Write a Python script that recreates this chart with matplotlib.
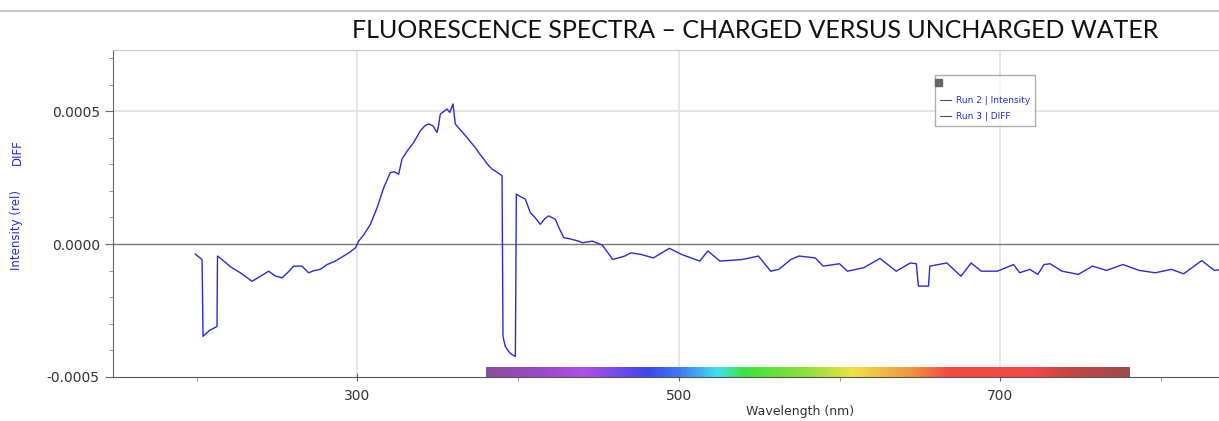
import numpy as np
import matplotlib
matplotlib.use("Agg")
import matplotlib.pyplot as plt
from matplotlib.colors import LinearSegmentedColormap
from matplotlib.lines import Line2D
from matplotlib.patches import Rectangle

# data (DIFF in units of 1e-4)
wavelength = [199.2, 203.4, 204.0, 208.0, 212.7, 213.0, 215.8, 221.0, 227.2, 234.5,
              240.0, 244.8, 249.0, 253.2, 257.0, 260.4, 265.6, 269.7, 273.0, 277.0,
              281.2, 286.0, 291.5, 295.0, 298.8, 300.8, 304.0, 308.1, 312.3, 316.4,
              320.5, 323.0, 325.7, 327.8, 331.0, 335.0, 339.2, 342.0, 344.4, 347.0,
              349.6, 350.5, 351.6, 355.8, 357.5, 359.5, 360.9, 364.0, 368.2, 371.0,
              373.4, 376.0, 378.6, 381.0, 383.8, 387.0, 390.0, 390.6, 392.0, 394.1,
              396.0, 398.3, 398.9, 401.0, 404.5, 407.6, 410.5, 413.8, 416.5, 419.0,
              423.2, 425.5, 428.4, 432.0, 437.7, 440.0, 446.2, 452.4, 458.9, 466.4,
              470.2, 476.5, 484.1, 494.1, 501.7, 513.0, 518.0, 525.6, 539.5, 549.5,
              557.1, 562.2, 569.7, 574.7, 584.8, 589.8, 599.9, 604.9, 615.0, 625.1,
              635.2, 644.0, 647.7, 649.0, 655.3, 656.1, 666.7, 675.5, 681.8, 688.1,
              698.2, 708.2, 712.0, 718.3, 723.3, 727.1, 730.9, 738.4, 748.5, 757.3,
              766.1, 776.2, 786.3, 796.4, 806.4, 814.0, 825.3, 833.1, 840.0]
diff_e4 = [-0.38, -0.58, -3.47, -3.25, -3.10, -0.45, -0.58, -0.85, -1.08, -1.40,
           -1.20, -1.02, -1.20, -1.27, -1.05, -0.83, -0.83, -1.08, -1.00, -0.95,
           -0.77, -0.65, -0.45, -0.32, -0.14, 0.11, 0.35, 0.74, 1.37, 2.12,
           2.69, 2.72, 2.63, 3.20, 3.50, 3.82, 4.26, 4.45, 4.52, 4.45,
           4.20, 4.45, 4.89, 5.08, 4.95, 5.27, 4.52, 4.30, 4.01, 3.80,
           3.63, 3.40, 3.20, 3.00, 2.82, 2.70, 2.57, -3.47, -3.85, -4.04,
           -4.15, -4.23, 1.88, 1.80, 1.69, 1.18, 1.00, 0.74, 0.95, 1.06,
           0.93, 0.60, 0.24, 0.20, 0.11, 0.05, 0.11, -0.04, -0.58, -0.45,
           -0.33, -0.39, -0.52, -0.16, -0.39, -0.64, -0.26, -0.64, -0.58, -0.45,
           -1.02, -0.95, -0.58, -0.45, -0.52, -0.83, -0.74, -1.02, -0.89, -0.54,
           -1.02, -0.71, -0.74, -1.58, -1.58, -0.83, -0.71, -1.21, -0.71, -1.02,
           -1.02, -0.77, -1.08, -0.95, -1.14, -0.77, -0.74, -1.02, -1.14, -0.83,
           -0.99, -0.77, -0.99, -1.08, -0.95, -1.12, -0.62, -0.99, -0.95]

x_major = [300, 500, 700]
x_minor = [200, 400, 600, 800]
y_major = [-0.0005, 0.0, 0.0005]
legend_labels = ["Run 2 | Intensity", "Run 3 | DIFF"]
title = "FLUORESCENCE SPECTRA \u2013 CHARGED VERSUS UNCHARGED WATER"

blue = "#2b2bd6"

fig = plt.figure(figsize=(12.19, 4.21), dpi=100)
ax = fig.add_axes([113 / 1219, 1 - 377 / 421, 1 - 113 / 1219, 327 / 421])

ax.set_xlim(148, 836)
ax.set_ylim(-0.0005, 0.00073)

# grid
for xv in x_major:
    ax.axvline(xv, color="#e2e2e2", lw=1.2, zorder=0)
ax.axhline(0.0005, color="#e2e2e2", lw=1.2, zorder=0)
ax.axhline(0.0, color="#777777", lw=1.0, zorder=1)

# visible spectrum bar, 380-780 nm
spec = LinearSegmentedColormap.from_list("spec", [
    (0.0, "#8a4f9e"), (0.08, "#9a48c8"), (0.15, "#b050e8"), (0.25, "#3a46f0"),
    (0.30, "#3d7cf2"), (0.36, "#40e2ef"), (0.40, "#3ee23e"), (0.50, "#90e03a"),
    (0.57, "#f0e244"), (0.66, "#f29440"), (0.72, "#f44a40"), (0.85, "#f24848"),
    (0.91, "#c44646"), (1.0, "#a04a4a")])
grad = np.linspace(0, 1, 400).reshape(1, -1)
ax.imshow(grad, cmap=spec, aspect="auto", extent=[380, 780, -0.0005, -0.000463],
          zorder=2, interpolation="bilinear")

ax.plot(wavelength, np.array(diff_e4) * 1e-4, color=blue, lw=1.0, zorder=3)

# axes styling
ax.spines["right"].set_visible(False)
ax.spines["top"].set_color("#c8c8c8")
ax.spines["left"].set_color("#666666")
ax.spines["bottom"].set_color("#555555")
ax.set_xticks(x_major)
ax.set_xticks(x_minor, minor=True)
ax.set_yticks(y_major)
ax.set_yticks(np.arange(-0.0004, 0.00075, 0.0001), minor=True)
ax.set_yticklabels(["-0.0005", "0.0000", "0.0005"])
ax.tick_params(axis="both", which="major", length=6, color="#666666",
               labelsize=10, labelcolor="#333333")
ax.tick_params(axis="both", which="minor", length=3, color="#888888")
ax.tick_params(axis="x", direction="inout", pad=6)
ax.set_xlabel("Wavelength (nm)", fontsize=9, color="#333333")
ax.xaxis.set_label_coords((800 - 113) / 1106, (377 - 411) / 327)
ax.xaxis.label.set_va("center")

# y label (two parts, blue)
fig.text(17 / 1219, 1 - 230 / 421, "Intensity (rel)", rotation=90, color=blue,
         fontsize=8.5, ha="center", va="center")
fig.text(17 / 1219, 1 - 152 / 421, "DIFF", rotation=90, color=blue,
         fontsize=8.5, ha="center", va="center")

# title and window border line
fig.text(755 / 1219, 1 - 30 / 421, title, fontsize=18, color="#111111",
         ha="center", va="center", family=["Lato", "DejaVu Sans"])
fig.add_artist(Line2D([0.0, 1.0], [1 - 11 / 421, 1 - 11 / 421], color="#c8c8c8", lw=1.5))

# legend
handles = [Line2D([], [], color="#555555", lw=0.8) for _ in legend_labels]
leg = ax.legend(handles, legend_labels, loc="upper left",
                bbox_to_anchor=(0.743, 0.9235), fontsize=6.5, frameon=True,
                fancybox=False, edgecolor="#999999", handlelength=1.2,
                handletextpad=0.5, borderpad=0.6, labelspacing=0.75,
                borderaxespad=0, title=" ", title_fontsize=6)
for t in leg.get_texts():
    t.set_color(blue)
fig.add_artist(Rectangle((935 / 1219, 1 - 86 / 421), 7 / 1219, 7 / 421,
                         transform=fig.transFigure, color="#666666"))

fig.savefig("out.png", dpi=100)
